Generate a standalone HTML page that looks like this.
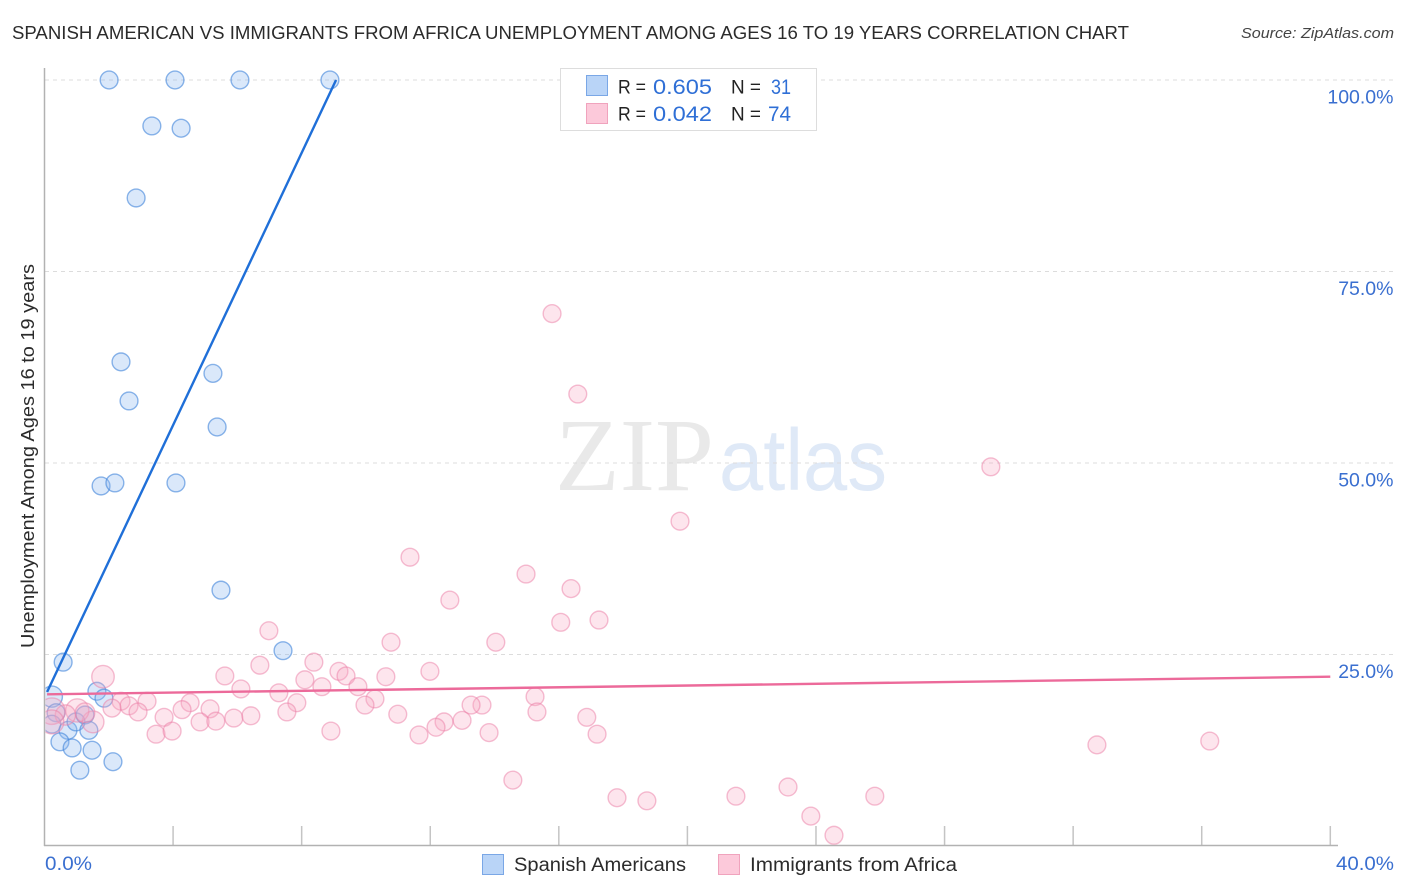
<!DOCTYPE html>
<html lang="en">
<head>
<meta charset="utf-8">
<title>Spanish American vs Immigrants from Africa Unemployment Correlation Chart</title>
<style>
html,body{margin:0;padding:0;background:#fff;width:1406px;height:892px;overflow:hidden}
svg{display:block;font-family:"Liberation Sans",sans-serif}
</style>
</head>
<body>
<svg id="chart" width="1406" height="892" viewBox="0 0 1406 892" xmlns="http://www.w3.org/2000/svg">
  <defs>
    <clipPath id="plot-clip"><rect x="45.5" y="60" width="1300" height="785"/></clipPath>
  </defs>
  <rect x="0" y="0" width="1406" height="892" fill="#ffffff"/>

  <text x="12" y="39" font-size="18.5" fill="#2b2b2b" textLength="1117" lengthAdjust="spacingAndGlyphs">SPANISH AMERICAN VS IMMIGRANTS FROM AFRICA UNEMPLOYMENT AMONG AGES 16 TO 19 YEARS CORRELATION CHART</text>
  <text x="1241" y="38" font-size="15" font-style="italic" fill="#444" textLength="153" lengthAdjust="spacingAndGlyphs">Source: ZipAtlas.com</text>

  <g>
    <text x="555" y="490" font-family="'Liberation Serif',serif" font-size="104" fill="#e9e9e9" textLength="159" lengthAdjust="spacingAndGlyphs">ZIP</text>
    <text x="719" y="490" font-size="87" fill="#dfe9f7" textLength="168" lengthAdjust="spacingAndGlyphs">atlas</text>
  </g>

  <g id="grid"></g>
  <g id="ticks"></g>
  <line x1="44.5" y1="68" x2="44.5" y2="846" stroke="#b2b2b2" stroke-width="1.5"/>
  <line x1="44" y1="845.5" x2="1338" y2="845.5" stroke="#b2b2b2" stroke-width="1.5"/>

  <g id="points" clip-path="url(#plot-clip)"></g>
  <g id="trends"></g>
  <g id="ylabels"></g>

  <text transform="translate(34,456) rotate(-90)" text-anchor="middle" font-size="18" fill="#2b2b2b" textLength="384" lengthAdjust="spacingAndGlyphs">Unemployment Among Ages 16 to 19 years</text>
  <text x="45" y="870" font-size="19" fill="#3a6fd0" textLength="47" lengthAdjust="spacingAndGlyphs">0.0%</text>
  <text x="1336" y="870" font-size="19" fill="#3a6fd0" textLength="58" lengthAdjust="spacingAndGlyphs">40.0%</text>

  <g>
    <rect x="560.5" y="68.5" width="256" height="62" fill="#ffffff" stroke="#dddddd" stroke-width="1"/>
    <rect x="586.5" y="75.5" width="21" height="20" fill="#b9d4f7" stroke="#7aa7e6" stroke-width="1"/>
    <rect x="586.5" y="103.5" width="21" height="20" fill="#fcc9da" stroke="#f0a3bd" stroke-width="1"/>
    <text x="618" y="93.5" font-size="19" fill="#222" textLength="28" lengthAdjust="spacingAndGlyphs">R =</text>
    <text x="653" y="94" font-size="21" fill="#2f6fd6" textLength="59" lengthAdjust="spacingAndGlyphs">0.605</text>
    <text x="731" y="93.5" font-size="19" fill="#222" textLength="30" lengthAdjust="spacingAndGlyphs">N =</text>
    <text x="771" y="94" font-size="21" fill="#2f6fd6" textLength="20" lengthAdjust="spacingAndGlyphs">31</text>
    <text x="618" y="120.5" font-size="19" fill="#222" textLength="28" lengthAdjust="spacingAndGlyphs">R =</text>
    <text x="653" y="121" font-size="21" fill="#2f6fd6" textLength="59" lengthAdjust="spacingAndGlyphs">0.042</text>
    <text x="731" y="120.5" font-size="19" fill="#222" textLength="30" lengthAdjust="spacingAndGlyphs">N =</text>
    <text x="768" y="121" font-size="21" fill="#2f6fd6" textLength="23" lengthAdjust="spacingAndGlyphs">74</text>
  </g>

  <g>
    <rect x="482.5" y="854.5" width="21" height="20" fill="#b9d4f7" stroke="#7aa7e6" stroke-width="1"/>
    <text x="514" y="871" font-size="19" fill="#2b2b2b" textLength="172" lengthAdjust="spacingAndGlyphs">Spanish Americans</text>
    <rect x="718.5" y="854.5" width="21" height="20" fill="#fcc9da" stroke="#f0a3bd" stroke-width="1"/>
    <text x="750" y="871" font-size="19" fill="#2b2b2b" textLength="207" lengthAdjust="spacingAndGlyphs">Immigrants from Africa</text>
  </g>
</svg>

<script>
const xTickValues = [4, 8, 12, 16, 20, 24, 28, 32, 36, 40];
const yTickValues = [25, 50, 75, 100];
const yTickLabels = ['25.0%', '50.0%', '75.0%', '100.0%'];

const blueX = [2.01, 4.06, 6.08, 8.88, 3.34, 4.25, 2.85, 2.38, 2.63, 5.24, 5.37, 1.76, 2.19, 4.09, 5.49, 7.42, 0.58, 0.23, 1.63, 1.85, 0.36, 0.23, 0.73, 0.98, 1.26, 1.38, 0.48, 0.86, 1.48, 2.13, 1.10];
const blueY = [100, 100, 100, 100, 94.0, 93.7, 84.6, 63.2, 58.1, 61.7, 54.7, 47.0, 47.4, 47.4, 33.4, 25.5, 24.0, 19.5, 20.2, 19.3, 17.4, 15.9, 15.1, 16.2, 17.1, 15.1, 13.6, 12.8, 12.5, 11.0, 9.9];
const blueWeight = [1, 1, 1, 1, 1, 1, 1, 1, 1, 1, 1, 1, 1, 1, 1, 1, 1, 1.4, 1, 1, 1, 1, 1, 1, 1, 1, 1, 1, 1, 1, 1];

const pinkX = [15.79, 16.59, 29.44, 19.77, 11.37, 14.98, 16.38, 12.61, 16.06, 17.25, 6.98, 10.78, 14.04, 1.82, 6.70, 8.38, 5.61, 9.16, 11.99, 10.62, 8.10, 9.38, 6.11, 7.29, 8.63, 9.75, 15.26, 10.28, 7.85, 9.97, 4.53, 3.19, 2.38, 2.63, 2.10, 2.91, 3.72, 4.28, 5.15, 4.84, 5.33, 5.89, 6.42, 7.54, 10.99, 13.61, 13.27, 15.32, 16.87, 12.99, 12.43, 12.18, 8.91, 3.47, 3.97, 11.65, 13.83, 17.19, 32.74, 36.25, 14.57, 17.81, 18.74, 21.51, 23.13, 25.83, 23.84, 24.56, 1.51, 1.02, 0.65, 1.26, 0.23, 0.23];
const pinkY = [69.5, 59.0, 49.5, 42.4, 37.7, 35.5, 33.6, 32.1, 29.2, 29.5, 28.1, 26.6, 26.6, 22.1, 23.6, 24.0, 22.2, 22.8, 22.8, 22.1, 21.7, 22.2, 20.5, 20.0, 20.8, 20.8, 19.5, 19.2, 18.7, 18.4, 18.7, 18.9, 18.9, 18.3, 18.0, 17.5, 16.8, 17.8, 17.9, 16.2, 16.3, 16.7, 17.0, 17.5, 17.2, 18.4, 18.4, 17.5, 16.8, 16.4, 16.2, 15.5, 15.0, 14.6, 15.0, 14.5, 14.8, 14.6, 13.2, 13.7, 8.6, 6.3, 5.9, 6.5, 7.7, 6.5, 3.9, 1.4, 16.2, 17.7, 17.1, 17.4, 17.6, 16.2];
const pinkWeight = [1, 1, 1, 1, 1, 1, 1, 1, 1, 1, 1, 1, 1, 1.6, 1, 1, 1, 1, 1, 1, 1, 1, 1, 1, 1, 1, 1, 1, 1, 1, 1, 1, 1, 1, 1, 1, 1, 1, 1, 1, 1, 1, 1, 1, 1, 1, 1, 1, 1, 1, 1, 1, 1, 1, 1, 1, 1, 1, 1, 1, 1, 1, 1, 1, 1, 1, 1, 1, 1.5, 1.7, 1.3, 1.2, 2.2, 1.8];

const blueTrendX = [0.08, 9.07];
const blueTrendY = [20.1, 100];
const pinkTrendX = [0.08, 40];
const pinkTrendY = [19.8, 22.1];

const NS = 'http://www.w3.org/2000/svg';
function xScale(v) { return 44.5 + v * 32.145; }
function yScale(v) { return 846 - v * 7.66; }
function rScale(w) { return 8.9 * Math.sqrt(w); }
function make(tag, attrs, parent) {
  const el = document.createElementNS(NS, tag);
  Object.keys(attrs).forEach(function (k) { el.setAttribute(k, attrs[k]); });
  parent.appendChild(el);
  return el;
}

const gridG = document.getElementById('grid');
const ticksG = document.getElementById('ticks');
const pointsG = document.getElementById('points');
const trendsG = document.getElementById('trends');
const ylabelsG = document.getElementById('ylabels');

yTickValues.forEach(function (v, i) {
  const line = make('line', {x1: 45, x2: 1393, y1: yScale(v), y2: yScale(v), stroke: '#dcdcdc', 'stroke-width': 1, 'stroke-dasharray': '4 4'}, gridG);
  
  
  const label = make('text', {x: 1393.5, y: yScale(v) + 23.5, 'text-anchor': 'end', 'font-size': 19.5, fill: '#3a6fd0'}, ylabelsG);
  
  
  label.textContent = yTickLabels[i];
});

xTickValues.forEach(function (v) {
  const tick = make('line', {x1: xScale(v), x2: xScale(v), y1: 826, y2: 846, stroke: '#c4c4c4', 'stroke-width': 1.5}, ticksG);
  
  
});

blueX.forEach(function (v, i) {
  const c = make('circle', {cx: xScale(v), cy: yScale(blueY[i]), r: rScale(blueWeight[i]), fill: 'rgba(140,185,240,0.32)', stroke: 'rgba(70,135,220,0.62)', 'stroke-width': 1.4}, pointsG);
  
  
});

pinkX.forEach(function (v, i) {
  const c = make('circle', {cx: xScale(v), cy: yScale(pinkY[i]), r: rScale(pinkWeight[i]), fill: 'rgba(248,170,195,0.30)', stroke: 'rgba(235,125,165,0.50)', 'stroke-width': 1.4}, pointsG);
  
  
});

const blueTrend = make('line', {x1: xScale(blueTrendX[0]), y1: yScale(blueTrendY[0]), x2: xScale(blueTrendX[1]), y2: yScale(blueTrendY[1]), stroke: '#1f6fd8', 'stroke-width': 2.4}, trendsG);



const pinkTrend = make('line', {x1: xScale(pinkTrendX[0]), y1: yScale(pinkTrendY[0]), x2: xScale(pinkTrendX[1]), y2: yScale(pinkTrendY[1]), stroke: '#ec6a9a', 'stroke-width': 2.4}, trendsG);


</script>
</body>
</html>
